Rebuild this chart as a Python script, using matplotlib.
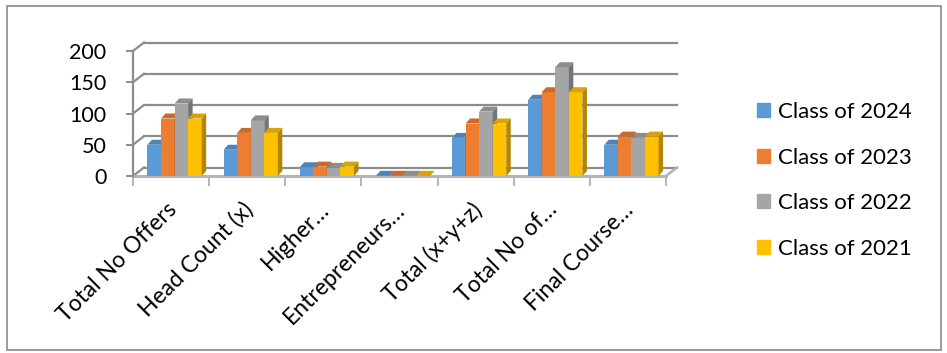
import matplotlib
matplotlib.use("Agg")
import matplotlib.pyplot as plt
import matplotlib.patches as mpatches
from matplotlib.colors import to_rgb
from matplotlib.transforms import ScaledTranslation
import numpy as np

categories = ["Total No Offers", "Head Count (x)", "Higher…", "Entrepreneurs…",
              "Total (x+y+z)", "Total No of…", "Final Course…"]
series_names = ["Class of 2024", "Class of 2023", "Class of 2022", "Class of 2021"]
class_2024 = [50, 42, 14, 0.3, 61, 122, 50]
class_2023 = [92, 69, 15, 0.3, 84, 134, 63]
class_2022 = [116, 89, 13, 0.3, 103, 174, 61]
class_2021 = [92, 69, 15, 0.3, 84, 134, 63]
series = [class_2024, class_2023, class_2022, class_2021]
colors = ["#5B9BD5", "#ED7D31", "#A5A5A5", "#FFC000"]
yticks = [0, 50, 100, 150, 200]

plt.rcParams['font.family'] = ['Lato', 'DejaVu Sans']

W, H = 947, 353
fig = plt.figure(figsize=(W / 100, H / 100), dpi=100)

# front plane of the plot area in pixels
x0, x1, ytop, ybot = 133, 666, 51, 176
ax = fig.add_axes([x0 / W, (H - ybot) / H, (x1 - x0) / W, (ybot - ytop) / H])
ax.set_xlim(0, len(categories))
ax.set_ylim(0, 200)

# pixel -> data units
ux = len(categories) / (x1 - x0)
uy = 200 / (ybot - ytop)
back_dx, back_dy = 11 * ux, 8.5 * uy
bar_dx, bar_dy = 4.5 * ux, 5 * uy

grid_c = "#8c8c8c"
# back wall gridlines and left wall slants
for v in yticks:
    ax.plot([back_dx, len(categories) + back_dx], [v + back_dy, v + back_dy],
            color=grid_c, lw=1.6, zorder=1, clip_on=False)
    ax.plot([0, back_dx], [v, v + back_dy], color=grid_c, lw=1.6, zorder=1,
            clip_on=False)
# floor right edge
ax.plot([len(categories), len(categories) + back_dx], [0, back_dy],
        color="#b4b4b4", lw=1.8, zorder=1, clip_on=False)


def shade(c, f):
    r, g, b = to_rgb(c)
    return (r * f, g * f, b * f)


bw = 0.178
start = 0.19
for ci in range(len(categories)):
    for si, vals in enumerate(series):
        h = vals[ci]
        x = ci + start + si * bw
        c = colors[si]
        z = 3 + ci + si * 0.01
        ax.bar(x, h, bw, align='edge', color=c, zorder=z, linewidth=0)
        top = mpatches.Polygon([(x, h), (x + bar_dx, h + bar_dy),
                                (x + bw + bar_dx, h + bar_dy), (x + bw, h)],
                               closed=True, facecolor=shade(c, 0.85),
                               edgecolor='none', zorder=z + 0.001)
        side = mpatches.Polygon([(x + bw, 0), (x + bw + bar_dx, bar_dy),
                                 (x + bw + bar_dx, h + bar_dy), (x + bw, h)],
                                closed=True, facecolor=shade(c, 0.7),
                                edgecolor='none', zorder=z + 0.002)
        ax.add_patch(top)
        ax.add_patch(side)

for s in ["top", "right"]:
    ax.spines[s].set_visible(False)
ax.spines["left"].set_color(grid_c)
ax.spines["left"].set_linewidth(1.6)
ax.spines["bottom"].set_color("#b4b4b4")
ax.spines["bottom"].set_linewidth(2.2)
ax.spines["bottom"].set_zorder(2)

ax.set_yticks(yticks)
ax.set_yticklabels([str(v) for v in yticks], fontsize=15.5)
ax.tick_params(axis='y', length=5, width=1.4, color=grid_c, pad=14)

ax.set_xticks(np.arange(len(categories)) + 0.5)
ax.set_xticklabels(categories, rotation=45, ha='right', rotation_mode='anchor',
                   fontsize=16.5)
ax.tick_params(axis='x', which='major', length=0, pad=15)
ax.set_xticks(np.arange(len(categories) + 1), minor=True)
ax.tick_params(axis='x', which='minor', length=7, width=1.4, color="#b4b4b4")
shift = ScaledTranslation(-5 / 100, -2 / 100, fig.dpi_scale_trans)
for lab in ax.get_xticklabels():
    lab.set_transform(lab.get_transform() + shift)

handles = [mpatches.Patch(color=c) for c in colors]
fig.legend(handles, series_names, loc='upper left',
           bbox_to_anchor=(737 / W, 1 - 82 / H), frameon=False, fontsize=16,
           handlelength=0.6, handleheight=0.6, handletextpad=0.35,
           labelspacing=1.15)

border = mpatches.Rectangle((7 / W, 1 - 350 / H), 934 / W, 344 / H,
                            transform=fig.transFigure, fill=False,
                            edgecolor="#8a8a8a", lw=1.2)
fig.patches.append(border)

fig.savefig("out.png", dpi=100)
